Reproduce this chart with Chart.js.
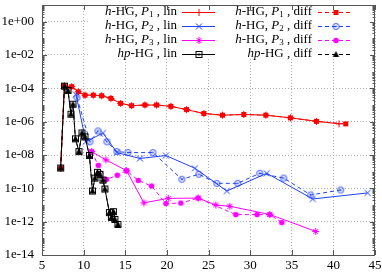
<!DOCTYPE html>
<html>
<head>
<meta charset="utf-8">
<script src="https://cdn.jsdelivr.net/npm/chart.js@4/dist/chart.umd.min.js"></script>
<style>
  html, body { margin: 0; padding: 0; background: #fff; }
  canvas { display: block; }
</style>
</head>
<body>
<canvas id="c" width="382" height="274"></canvas>
<script>
// values
const xTicks = [5, 10, 15, 20, 25, 30, 35, 40, 45];
const yTicks = [1e-14, 1e-12, 1e-10, 1e-8, 1e-6, 1e-4, 1e-2, 1e0];

const redLinX  = [7.24, 7.68, 8.56, 9.36, 10.16, 11.16, 12.16, 13.28, 14.44, 15.76, 17.36, 18.76, 20.48, 22.36, 24.44, 26.68, 29.24, 31.88, 34.84, 37.96, 40.68];
const redLinY  = [1.65e-9, 1.4e-4, 1.26e-4, 6.2e-5, 3.9e-5, 3.9e-5, 3.6e-5, 2.5e-5, 1.26e-5, 9.1e-6, 1.0e-5, 1.0e-5, 8.3e-6, 5.3e-6, 3.1e-6, 2.45e-6, 2.7e-6, 2.45e-6, 1.7e-6, 1.05e-6, 7.4e-7];
const redDiffX = [7.24, 7.68, 8.56, 9.36, 10.16, 11.16, 12.16, 13.28, 14.44, 15.76, 17.36, 18.76, 20.48, 22.36, 24.44, 26.68, 29.24, 31.88, 34.84, 37.96, 41.48];
const redDiffY = [1.65e-9, 1.4e-4, 1.26e-4, 6.2e-5, 3.9e-5, 3.9e-5, 3.6e-5, 2.5e-5, 1.26e-5, 9.1e-6, 1.0e-5, 1.0e-5, 8.3e-6, 5.3e-6, 3.1e-6, 2.45e-6, 2.7e-6, 2.45e-6, 1.7e-6, 1.05e-6, 7.4e-7];

const blueLinX  = [9.08, 10.28, 12.32, 14.0, 16.76, 19.88, 23.36, 27.2, 32.0, 37.52, 44.12];
const blueLinY  = [4.3e-5, 6.2e-8, 2.1e-7, 1.4e-8, 6.2e-9, 9.3e-9, 1.6e-9, 6.9e-11, 8e-10, 2.3e-11, 5.3e-11];
const blueDiffX = [9.2, 10.76, 11.72, 12.8, 14.0, 15.32, 18.32, 21.8, 23.84, 26.0, 28.52, 31.16, 34.04, 37.28, 40.88];
const blueDiffY = [2.8e-5, 6.2e-8, 2.8e-7, 6.2e-8, 1.6e-8, 1.4e-8, 1.4e-8, 3.5e-10, 7e-10, 2.0e-10, 2.0e-10, 8e-10, 4.1e-10, 4e-11, 8e-11];

const magLinX  = [10.96, 12.68, 15.16, 17.24, 20.16, 23.76, 25.88, 27.56, 32.36, 37.88];
const magLinY  = [1.6e-8, 5.1e-9, 1.15e-9, 1.35e-11, 2.5e-11, 2.6e-11, 1.0e-11, 8.4e-12, 2.7e-12, 2.6e-13];
const magDiffX = [10.96, 11.76, 12.76, 14.04, 15.16, 16.56, 18.16, 19.88, 21.68, 23.76, 28.28, 30.84, 32.36, 33.8];
const magDiffY = [1.6e-8, 2.4e-9, 3.4e-10, 6.1e-10, 1.15e-9, 3.0e-10, 1.37e-10, 1.23e-11, 1.3e-11, 2.6e-11, 2.65e-12, 2.65e-12, 2.65e-12, 8.9e-13];

const blackLinX  = [7.24, 7.70, 8.12, 8.48, 8.72, 9.02, 9.44, 9.8, 10.16, 10.7, 11.06, 11.36, 11.66, 11.96, 12.32, 12.56, 13.1, 13.34, 13.58, 13.76, 14.12];
const blackLinY  = [1.65e-9, 1.35e-4, 7.4e-5, 2.8e-6, 1.1e-5, 9.3e-8, 1.6e-8, 2.1e-7, 1.23e-7, 9.3e-9, 6.9e-11, 4.1e-10, 9.1e-10, 6.9e-10, 3.1e-10, 9.1e-11, 3.5e-12, 1.8e-12, 4e-12, 1.35e-12, 6.8e-13];
const blackDiffX = [7.24, 7.70, 8.12, 8.48, 8.72, 9.02, 9.44, 9.8, 10.16, 10.7, 11.06, 11.36, 11.66, 11.96, 12.32, 12.56, 13.1, 13.34, 13.58, 13.76, 14.12];
const blackDiffY = [1.65e-9, 1.35e-4, 7.4e-5, 2.8e-6, 1.1e-5, 9.3e-8, 1.6e-8, 2.1e-7, 1.23e-7, 9.3e-9, 6.9e-11, 4.1e-10, 9.1e-10, 6.9e-10, 3.1e-10, 9.1e-11, 3.5e-12, 1.8e-12, 4e-12, 1.35e-12, 6.8e-13];

const FONT = '"Liberation Serif", "DejaVu Serif", serif';
const RED = '#ff0000', BLUE = '#2040ff', MAG = '#ff00ff', BLK = '#000000';

// small marker images (gnuplot point types)
function mk(draw) {
  const c = document.createElement('canvas');
  c.width = 11; c.height = 11;
  const g = c.getContext('2d');
  g.translate(5.5, 5.5);
  g.lineWidth = 1;
  draw(g);
  return c;
}
const mPlus = mk(g => { g.strokeStyle = RED; g.beginPath(); g.moveTo(-3.5, 0); g.lineTo(3.5, 0); g.moveTo(0, -3.5); g.lineTo(0, 3.5); g.stroke(); });
const mSquare = mk(g => { g.fillStyle = RED; g.fillRect(-2.5, -2.5, 5, 5); });
const mCross = mk(g => { g.strokeStyle = BLUE; g.beginPath(); g.moveTo(-3, -3); g.lineTo(3, 3); g.moveTo(-3, 3); g.lineTo(3, -3); g.stroke(); });
const mCircDot = mk(g => { g.strokeStyle = BLUE; g.fillStyle = BLUE; g.beginPath(); g.arc(0, 0, 3, 0, Math.PI * 2); g.stroke(); g.beginPath(); g.arc(0, 0, 1, 0, Math.PI * 2); g.fill(); });
const mStar = mk(g => { g.strokeStyle = MAG; g.beginPath(); g.moveTo(-3.5, 0); g.lineTo(3.5, 0); g.moveTo(0, -3.5); g.lineTo(0, 3.5); g.moveTo(-2.6, -2.6); g.lineTo(2.6, 2.6); g.moveTo(-2.6, 2.6); g.lineTo(2.6, -2.6); g.stroke(); });
const mDisc = mk(g => { g.fillStyle = MAG; g.beginPath(); g.arc(0, 0, 2.8, 0, Math.PI * 2); g.fill(); });
const mSqDot = mk(g => { g.strokeStyle = BLK; g.fillStyle = BLK; g.strokeRect(-3, -3, 6, 6); g.fillRect(-1, -1, 2, 2); });
const mTri = mk(g => { g.fillStyle = BLK; g.beginPath(); g.moveTo(0, -3.5); g.lineTo(3.2, 2.5); g.lineTo(-3.2, 2.5); g.closePath(); g.fill(); });

function pts(xs, ys) { return xs.map((x, i) => ({ x: x, y: ys[i] })); }

const series = [
  { xs: redLinX, ys: redLinY, col: RED, dash: [], mark: mPlus, k: '1', hp: false, kind: 'lin' },
  { xs: redDiffX, ys: redDiffY, col: RED, dash: [4, 3], mark: mSquare, k: '1', hp: false, kind: 'diff' },
  { xs: blueLinX, ys: blueLinY, col: BLUE, dash: [], mark: mCross, k: '2', hp: false, kind: 'lin' },
  { xs: blueDiffX, ys: blueDiffY, col: BLUE, dash: [4, 3], mark: mCircDot, k: '2', hp: false, kind: 'diff' },
  { xs: magLinX, ys: magLinY, col: MAG, dash: [], mark: mStar, k: '3', hp: false, kind: 'lin' },
  { xs: magDiffX, ys: magDiffY, col: MAG, dash: [4, 3], mark: mDisc, k: '3', hp: false, kind: 'diff' },
  { xs: blackLinX, ys: blackLinY, col: BLK, dash: [], mark: mSqDot, k: '', hp: true, kind: 'lin' },
  { xs: blackDiffX, ys: blackDiffY, col: BLK, dash: [4, 3], mark: mTri, k: '', hp: true, kind: 'diff' }
];

const datasets = series.map((s, i) => ({
  data: pts(s.xs, s.ys),
  showLine: true,
  borderColor: s.col,
  borderWidth: 1,
  borderDash: s.dash,
  pointStyle: s.mark,
  pointRadius: 4,
  pointHoverRadius: 4,
  fill: false,
  tension: 0,
  order: series.length - 1 - i
}));

// frame, ticks, opaque key box and the key itself
const gnuPlot = {
  id: 'gnuPlot',
  beforeDatasetsDraw(chart) {
    const ctx = chart.ctx;
    ctx.save();
    ctx.fillStyle = '#fff';
    ctx.fillRect(88, 2, 286, 57);
    ctx.restore();
  },
  afterDraw(chart) {
    const ctx = chart.ctx, a = chart.chartArea;
    const xs = chart.scales.x, ys = chart.scales.y;
    ctx.save();
    ctx.strokeStyle = '#555';
    ctx.lineWidth = 1;
    ctx.beginPath();
    xTicks.forEach(v => {
      const p = Math.round(xs.getPixelForValue(v)) + 0.5;
      ctx.moveTo(p, a.bottom); ctx.lineTo(p, a.bottom - 5);
      ctx.moveTo(p, a.top); ctx.lineTo(p, a.top + 5);
    });
    for (let e = -14; e <= 0; e++) {
      for (let m = 1; m <= 9; m++) {
        const v = m * Math.pow(10, e);
        const p = Math.round(ys.getPixelForValue(v)) + 0.5;
        if (p < a.top || p > a.bottom) continue;
        const len = (m === 1 && e % 2 === 0) ? 5 : 2.5;
        ctx.moveTo(a.left, p); ctx.lineTo(a.left + len, p);
        ctx.moveTo(a.right, p); ctx.lineTo(a.right - len, p);
      }
    }
    ctx.stroke();
    ctx.strokeRect(Math.round(a.left) + 0.5, Math.round(a.top) + 0.5, Math.round(a.right - a.left) - 1, Math.round(a.bottom - a.top));

    // key
    const it = 'italic 13px ' + FONT, rm = '13px ' + FONT, sub = '9px ' + FONT;
    ctx.textBaseline = 'middle';
    ctx.fillStyle = '#000';
    series.forEach((s, i) => {
      const row = Math.floor(i / 2), colIdx = i % 2;
      const y = 12 + row * 14;
      const textRight = colIdx === 0 ? 177 : 312;
      const lineL = colIdx === 0 ? 182 : 318;
      const lineR = colIdx === 0 ? 215 : 353;
      const runs = s.hp
        ? [['hp', it, 0], ['-HG , ' + s.kind, rm, 0]]
        : [['h', it, 0], ['-HG, ', rm, 0], ['P', it, 0], [s.k, sub, 3], [' , ' + s.kind, rm, 0]];
      let w = 0;
      runs.forEach(r => { ctx.font = r[1]; w += ctx.measureText(r[0]).width; });
      let x = textRight - w;
      runs.forEach(r => {
        ctx.font = r[1];
        ctx.fillText(r[0], x, y + (r[2] || 0));
        x += ctx.measureText(r[0]).width;
      });
      ctx.save();
      ctx.strokeStyle = s.col;
      ctx.setLineDash(s.dash);
      ctx.beginPath();
      ctx.moveTo(lineL, y + 0.5); ctx.lineTo(lineR, y + 0.5);
      ctx.stroke();
      ctx.restore();
      ctx.drawImage(s.mark, Math.round((lineL + lineR) / 2) - 5.5, y - 5);
    });
    ctx.restore();
  }
};

function fmtExp(v) {
  const e = Math.round(Math.log10(v));
  return '1e' + (e < 0 ? '-' : '+') + String(Math.abs(e)).padStart(2, '0');
}

new Chart(document.getElementById('c'), {
  type: 'scatter',
  data: { datasets: datasets },
  plugins: [gnuPlot],
  options: {
    responsive: false,
    animation: false,
    devicePixelRatio: 1,
    layout: { padding: { left: 0, right: 7, top: 1, bottom: 0 } },
    plugins: { legend: { display: false }, tooltip: { enabled: false } },
    scales: {
      x: {
        type: 'linear', min: 5, max: 45,
        afterBuildTicks: s => { s.ticks = xTicks.map(v => ({ value: v })); },
        afterFit: s => { s.height = 19; s.paddingLeft = 0; s.paddingRight = 0; },
        ticks: { font: { family: FONT, size: 13 }, color: '#000', padding: 3, maxRotation: 0, autoSkip: false },
        grid: { color: '#b0b0b0', lineWidth: 1, drawTicks: false },
        border: { display: false, dash: [1, 2] }
      },
      y: {
        type: 'logarithmic', min: 1e-14, max: 10,
        afterBuildTicks: s => { s.ticks = yTicks.map(v => ({ value: v })); },
        afterFit: s => { s.width = 42; s.paddingTop = 0; s.paddingBottom = 0; },
        ticks: { font: { family: FONT, size: 13 }, color: '#000', padding: 8, autoSkip: false, callback: v => fmtExp(v) },
        grid: { color: '#b0b0b0', lineWidth: 1, drawTicks: false },
        border: { display: false, dash: [1, 2] }
      }
    }
  }
});
</script>
</body>
</html>
